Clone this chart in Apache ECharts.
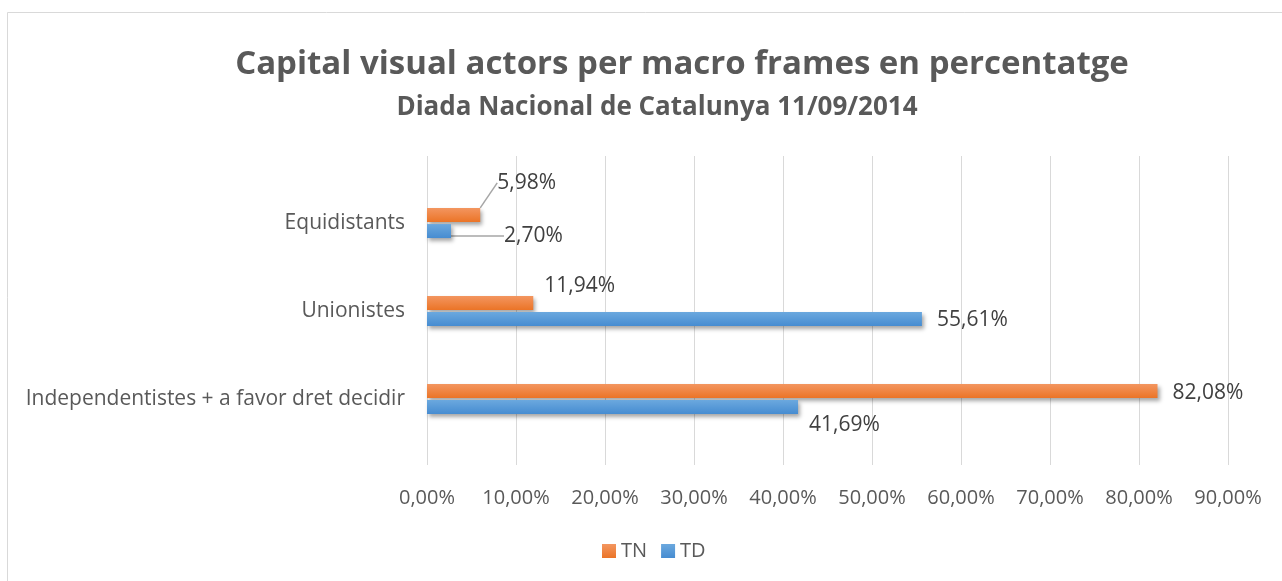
<!DOCTYPE html>
<html><head><meta charset="utf-8">
<script src="https://cdn.jsdelivr.net/npm/echarts@6/dist/echarts.min.js"></script>
<style>html,body{margin:0;padding:0;background:#fff}#c{width:1282px;height:581px}</style>
</head><body><div id="c"></div>
<script>
const categories = ['Independentistes + a favor dret decidir', 'Unionistes', 'Equidistants'];
const seriesNames = ['TN', 'TD'];
const tnValues = [82.08, 11.94, 5.98];
const tdValues = [41.69, 55.61, 2.70];

const FONT = '"Open Sans", sans-serif';
const fmt = v => v.toFixed(2).replace('.', ',') + '%';
// label offsets (styling only)
const tnLayout = [{dx: 10, dy: 2}, {dx: 6, dy: -17}, {dx: 12, dy: -32, line: true}];
const tdLayout = [{dx: 6, dy: 18}, {dx: 10, dy: 1}, {dx: 48, dy: 5, line: true}];

function grad(top, bottom) {
  return new echarts.graphic.LinearGradient(0, 0, 0, 1, [{offset: 0, color: top}, {offset: 1, color: bottom}]);
}
function mk(vals, layout) {
  return vals.map((v, i) => ({value: v, labelLine: {show: !!layout[i].line}}));
}
const chart = echarts.init(document.getElementById('c'), null, {renderer: 'canvas'});
const barStyle = (c1, c2) => ({
  color: grad(c1, c2), shadowColor: 'rgba(0,0,0,0.35)', shadowBlur: 4, shadowOffsetX: 2, shadowOffsetY: 3
});
chart.setOption({
  animation: false,
  backgroundColor: '#fff',
  graphic: [{type: 'rect', shape: {x: 7.5, y: 12.5, width: 1290, height: 590}, style: {fill: 'none', stroke: '#d9d9d9', lineWidth: 1}}],
  title: [
    {text: 'Capital visual actors per macro frames en percentatge', left: 677, textAlign: 'center', top: 43,
     textStyle: {fontFamily: FONT, fontSize: 33, fontWeight: 'bold', color: '#595959'}},
    {text: 'Diada Nacional de Catalunya 11/09/2014', left: 652, textAlign: 'center', top: 90,
     textStyle: {fontFamily: FONT, fontSize: 26, fontWeight: 'bold', color: '#595959'}}
  ],
  legend: {data: seriesNames, top: 536, left: 597, itemWidth: 14, itemHeight: 14, itemGap: 14, icon: 'rect',
    textStyle: {fontFamily: FONT, fontSize: 20, color: '#595959'}},
  grid: [
    {left: 427, right: 54, top: 156, bottom: 116, containLabel: false},
    {left: 427, right: 54, top: 179, bottom: 138, containLabel: false}
  ],
  xAxis: [
    {gridIndex: 0, type: 'value', min: 0, max: 90, interval: 10,
     axisLine: {show: false}, axisTick: {show: false},
     splitLine: {lineStyle: {color: '#d9d9d9', width: 1}},
     axisLabel: {formatter: fmt, fontFamily: FONT, fontSize: 20, color: '#595959', margin: 23}},
    {gridIndex: 1, type: 'value', min: 0, max: 90, interval: 10, show: false}
  ],
  yAxis: [
    {gridIndex: 0, type: 'category', data: categories, show: false},
    {gridIndex: 1, type: 'category', data: categories, axisLine: {show: false}, axisTick: {show: false},
     axisLabel: {fontFamily: FONT, fontSize: 21, color: '#595959', margin: 22}}
  ],
  series: [
    {name: 'TN', type: 'bar', xAxisIndex: 1, yAxisIndex: 1, data: mk(tnValues, tnLayout), barWidth: 14, barGap: '15%',
     itemStyle: barStyle('#F39660', '#EB7427'),
     label: {show: true, position: 'right', formatter: p => fmt(p.value), fontFamily: FONT, fontSize: 21, color: '#404040'},
     labelLine: {lineStyle: {color: '#a6a6a6', width: 1.5}},
     labelLayout: p => ({dx: tnLayout[p.dataIndex].dx, dy: tnLayout[p.dataIndex].dy})},
    {name: 'TD', type: 'bar', xAxisIndex: 1, yAxisIndex: 1, data: mk(tdValues, tdLayout), barWidth: 14, barGap: '15%',
     itemStyle: barStyle('#6BA8DE', '#468CD1'),
     label: {show: true, position: 'right', formatter: p => fmt(p.value), fontFamily: FONT, fontSize: 21, color: '#404040'},
     labelLine: {lineStyle: {color: '#a6a6a6', width: 1.5}},
     labelLayout: p => ({dx: tdLayout[p.dataIndex].dx, dy: tdLayout[p.dataIndex].dy})}
  ]
});
</script></body></html>
